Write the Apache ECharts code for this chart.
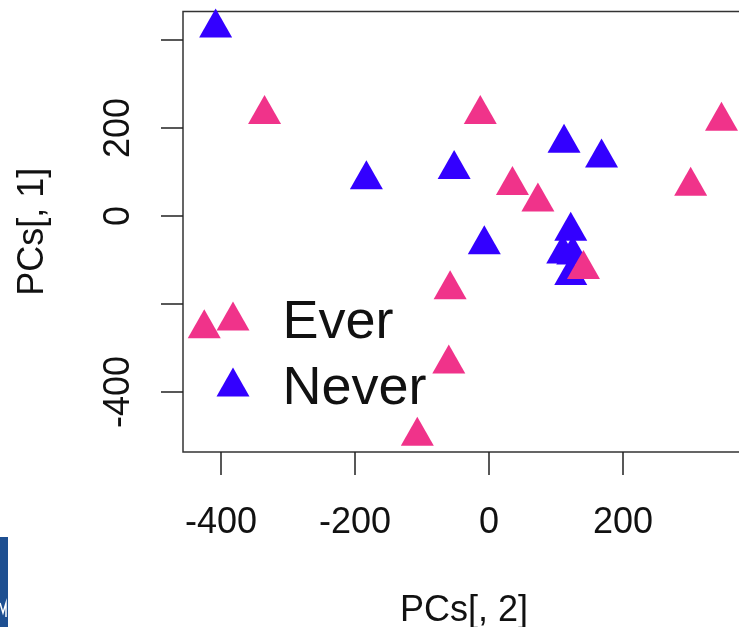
<!DOCTYPE html>
<html>
<head>
<meta charset="utf-8">
<script src="https://cdn.jsdelivr.net/npm/echarts@6/dist/echarts.min.js"></script>
<style>
html,body{margin:0;padding:0;background:#fff;}
#chart{width:739px;height:627px;}
</style>
</head>
<body>
<div id="chart"></div>
<script>
// ---- data ----
const seriesNames = ['Ever', 'Never'];
const everX  = [-335, -13, 35, 73, 347, 301, 141, -58, -60, -107, -425];
const everY  = [231, 231, 70, 32, 216, 68, -121, -167, -336, -500, -256];
const neverX = [-408, -183, -52, -7, 112, 168, 122, 110, 125, 122];
const neverY = [428, 83, 106, -65, 166, 132, -34, -86, -88, -135];
const xTicks = [-400, -200, 0, 200];
const xTickLabels = [-400, -200, 0, 200];
const yTicks = [-400, -200, 0, 200, 400];
const yTickLabels = [-400, 0, 200];
const xTitle = 'PCs[, 2]';
const yTitle = 'PCs[, 1]';

const pink = '#F0338A';
const blue = '#3300FF';
const font = 'Liberation Sans, Arial, Helvetica, sans-serif';

function pairs(xs, ys) { return xs.map((x, i) => [x, ys[i]]); }

const chart = echarts.init(document.getElementById('chart'), null, {renderer: 'canvas'});
const triSize = [33, 29];
const triOffset = [0, -4.8];

chart.setOption({
  animation: false,
  backgroundColor: '#fff',
  grid: {
    left: 183, top: 11.5, width: 562, height: 440.5,
    outerBoundsMode: 'none', containLabel: false,
    show: true, borderColor: '#333', borderWidth: 1.5, backgroundColor: 'transparent'
  },
  xAxis: {
    type: 'value', min: -456.7, max: 382.1,
    splitLine: {show: false},
    axisLine: {show: false, onZero: false},
    axisTick: {show: true, inside: false, length: 23, customValues: xTicks,
      lineStyle: {color: '#222', width: 1.5}},
    axisLabel: {show: true, customValues: xTickLabels, margin: 53,
      color: '#111', fontSize: 36, fontFamily: font},
    name: xTitle, nameLocation: 'middle', nameGap: 141,
    nameTextStyle: {color: '#111', fontSize: 36, fontFamily: font}
  },
  yAxis: {
    type: 'value', min: -536.4, max: 464.8,
    splitLine: {show: false},
    axisLine: {show: false, onZero: false},
    axisTick: {show: true, inside: false, length: 22, customValues: yTicks,
      lineStyle: {color: '#222', width: 1.5}},
    axisLabel: {show: true, customValues: yTickLabels, rotate: 90, margin: 46,
      color: '#111', fontSize: 36, fontFamily: font},
    name: yTitle, nameLocation: 'middle', nameGap: 132, nameRotate: 90,
    nameTextStyle: {color: '#111', fontSize: 36, fontFamily: font}
  },
  legend: {
    show: true, orient: 'vertical', left: 211.5, top: 291, padding: 5,
    icon: 'triangle', itemWidth: 33, itemHeight: 29, itemGap: 12,
    selectedMode: false,
    data: seriesNames,
    formatter: '{t|{name}}',
    textStyle: {color: '#111', fontSize: 54, fontFamily: font,
      rich: {t: {color: '#111', fontSize: 54, fontFamily: font, padding: [14, 0, 0, 28]}}}
  },
  series: [
    {
      name: seriesNames[1], type: 'scatter', symbol: 'triangle',
      symbolSize: triSize, symbolOffset: triOffset,
      itemStyle: {color: blue, opacity: 1},
      data: pairs(neverX, neverY), z: 2
    },
    {
      name: seriesNames[0], type: 'scatter', symbol: 'triangle',
      symbolSize: triSize, symbolOffset: triOffset,
      itemStyle: {color: pink, opacity: 1},
      data: pairs(everX, everY), z: 3
    }
  ],
  graphic: [
    {type: 'rect', shape: {x: 0, y: 537, width: 8, height: 90}, style: {fill: '#1E4F91'}, silent: true},
    {type: 'polyline', shape: {points: [[0, 603], [3, 613], [6, 603], [6, 617]]},
      style: {stroke: '#fff', lineWidth: 1.5, fill: null}, silent: true}
  ]
});
</script>
</body>
</html>
